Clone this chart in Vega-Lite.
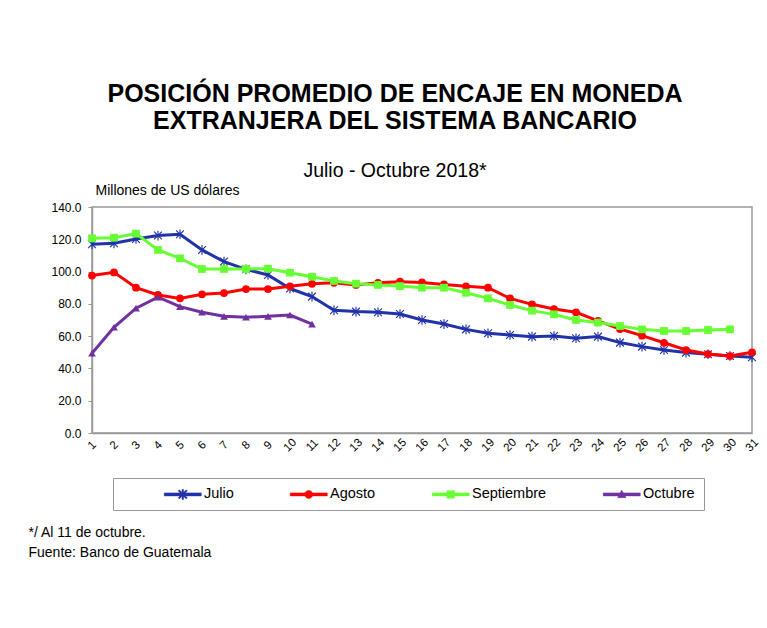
{
  "$schema": "https://vega.github.io/schema/vega-lite/v6.json",
  "autosize": {"type": "none"},
  "width": 660,
  "height": 226,
  "padding": {"left": 92, "top": 207, "right": 15, "bottom": 195},
  "background": "white",
  "config": {
    "font": "Liberation Sans",
    "view": {"stroke": "#999999", "strokeWidth": 1.5},
    "axis": {"labelFont": "Liberation Sans", "titleFont": "Liberation Sans", "labelColor": "black", "titleColor": "black", "grid": false, "domainColor": "#999999", "domainWidth": 1.5, "tickColor": "#999999"}
  },
  "title": {
    "text": ["POSICIÓN PROMEDIO DE ENCAJE EN MONEDA", "EXTRANJERA DEL SISTEMA BANCARIO"],
    "subtitle": "Julio - Octubre 2018*",
    "anchor": "middle",
    "dx": -27,
    "font": "Liberation Sans",
    "fontSize": 25,
    "fontWeight": "bold",
    "lineHeight": 27,
    "color": "black",
    "subtitleFont": "Liberation Sans",
    "subtitleFontSize": 19.5,
    "subtitleColor": "black",
    "subtitlePadding": 28,
    "offset": 3
  },
  "data": {
    "values": [
      {"dia": 1, "mes": "Julio", "valor": 116.9}, {"dia": 2, "mes": "Julio", "valor": 117.5}, {"dia": 3, "mes": "Julio", "valor": 120.2}, {"dia": 4, "mes": "Julio", "valor": 122.3}, {"dia": 5, "mes": "Julio", "valor": 123.1}, {"dia": 6, "mes": "Julio", "valor": 113.4}, {"dia": 7, "mes": "Julio", "valor": 106.2}, {"dia": 8, "mes": "Julio", "valor": 101.4}, {"dia": 9, "mes": "Julio", "valor": 97.9}, {"dia": 10, "mes": "Julio", "valor": 89.5}, {"dia": 11, "mes": "Julio", "valor": 84.5}, {"dia": 12, "mes": "Julio", "valor": 76.0}, {"dia": 13, "mes": "Julio", "valor": 75.2}, {"dia": 14, "mes": "Julio", "valor": 74.8}, {"dia": 15, "mes": "Julio", "valor": 73.7}, {"dia": 16, "mes": "Julio", "valor": 70.0}, {"dia": 17, "mes": "Julio", "valor": 67.5}, {"dia": 18, "mes": "Julio", "valor": 64.2}, {"dia": 19, "mes": "Julio", "valor": 61.8}, {"dia": 20, "mes": "Julio", "valor": 60.7}, {"dia": 21, "mes": "Julio", "valor": 59.7}, {"dia": 22, "mes": "Julio", "valor": 60.1}, {"dia": 23, "mes": "Julio", "valor": 58.7}, {"dia": 24, "mes": "Julio", "valor": 59.7}, {"dia": 25, "mes": "Julio", "valor": 56.0}, {"dia": 26, "mes": "Julio", "valor": 53.5}, {"dia": 27, "mes": "Julio", "valor": 51.4}, {"dia": 28, "mes": "Julio", "valor": 49.8}, {"dia": 29, "mes": "Julio", "valor": 48.8}, {"dia": 30, "mes": "Julio", "valor": 47.7}, {"dia": 31, "mes": "Julio", "valor": 46.9},
      {"dia": 1, "mes": "Agosto", "valor": 97.5}, {"dia": 2, "mes": "Agosto", "valor": 99.5}, {"dia": 3, "mes": "Agosto", "valor": 90.0}, {"dia": 4, "mes": "Agosto", "valor": 85.5}, {"dia": 5, "mes": "Agosto", "valor": 83.4}, {"dia": 6, "mes": "Agosto", "valor": 85.9}, {"dia": 7, "mes": "Agosto", "valor": 86.7}, {"dia": 8, "mes": "Agosto", "valor": 89.2}, {"dia": 9, "mes": "Agosto", "valor": 89.2}, {"dia": 10, "mes": "Agosto", "valor": 90.9}, {"dia": 11, "mes": "Agosto", "valor": 92.4}, {"dia": 12, "mes": "Agosto", "valor": 93.0}, {"dia": 13, "mes": "Agosto", "valor": 91.7}, {"dia": 14, "mes": "Agosto", "valor": 93.0}, {"dia": 15, "mes": "Agosto", "valor": 93.7}, {"dia": 16, "mes": "Agosto", "valor": 93.3}, {"dia": 17, "mes": "Agosto", "valor": 92.0}, {"dia": 18, "mes": "Agosto", "valor": 90.9}, {"dia": 19, "mes": "Agosto", "valor": 90.0}, {"dia": 20, "mes": "Agosto", "valor": 83.4}, {"dia": 21, "mes": "Agosto", "valor": 79.7}, {"dia": 22, "mes": "Agosto", "valor": 76.8}, {"dia": 23, "mes": "Agosto", "valor": 74.8}, {"dia": 24, "mes": "Agosto", "valor": 69.4}, {"dia": 25, "mes": "Agosto", "valor": 64.4}, {"dia": 26, "mes": "Agosto", "valor": 60.3}, {"dia": 27, "mes": "Agosto", "valor": 55.9}, {"dia": 28, "mes": "Agosto", "valor": 51.4}, {"dia": 29, "mes": "Agosto", "valor": 48.9}, {"dia": 30, "mes": "Agosto", "valor": 47.7}, {"dia": 31, "mes": "Agosto", "valor": 50.0},
      {"dia": 1, "mes": "Septiembre", "valor": 120.6}, {"dia": 2, "mes": "Septiembre", "valor": 121.0}, {"dia": 3, "mes": "Septiembre", "valor": 123.5}, {"dia": 4, "mes": "Septiembre", "valor": 113.4}, {"dia": 5, "mes": "Septiembre", "valor": 108.2}, {"dia": 6, "mes": "Septiembre", "valor": 101.6}, {"dia": 7, "mes": "Septiembre", "valor": 101.6}, {"dia": 8, "mes": "Septiembre", "valor": 101.6}, {"dia": 9, "mes": "Septiembre", "valor": 101.8}, {"dia": 10, "mes": "Septiembre", "valor": 99.3}, {"dia": 11, "mes": "Septiembre", "valor": 96.8}, {"dia": 12, "mes": "Septiembre", "valor": 94.2}, {"dia": 13, "mes": "Septiembre", "valor": 92.5}, {"dia": 14, "mes": "Septiembre", "valor": 91.7}, {"dia": 15, "mes": "Septiembre", "valor": 91.0}, {"dia": 16, "mes": "Septiembre", "valor": 90.0}, {"dia": 17, "mes": "Septiembre", "valor": 90.0}, {"dia": 18, "mes": "Septiembre", "valor": 86.9}, {"dia": 19, "mes": "Septiembre", "valor": 83.4}, {"dia": 20, "mes": "Septiembre", "valor": 79.3}, {"dia": 21, "mes": "Septiembre", "valor": 75.8}, {"dia": 22, "mes": "Septiembre", "valor": 73.5}, {"dia": 23, "mes": "Septiembre", "valor": 70.0}, {"dia": 24, "mes": "Septiembre", "valor": 68.4}, {"dia": 25, "mes": "Septiembre", "valor": 66.3}, {"dia": 26, "mes": "Septiembre", "valor": 64.2}, {"dia": 27, "mes": "Septiembre", "valor": 63.2}, {"dia": 28, "mes": "Septiembre", "valor": 63.2}, {"dia": 29, "mes": "Septiembre", "valor": 63.8}, {"dia": 30, "mes": "Septiembre", "valor": 64.2},
      {"dia": 1, "mes": "Octubre", "valor": 49.4}, {"dia": 2, "mes": "Octubre", "valor": 65.5}, {"dia": 3, "mes": "Octubre", "valor": 77.3}, {"dia": 4, "mes": "Octubre", "valor": 84.1}, {"dia": 5, "mes": "Octubre", "valor": 78.3}, {"dia": 6, "mes": "Octubre", "valor": 74.8}, {"dia": 7, "mes": "Octubre", "valor": 72.3}, {"dia": 8, "mes": "Octubre", "valor": 71.7}, {"dia": 9, "mes": "Octubre", "valor": 72.3}, {"dia": 10, "mes": "Octubre", "valor": 73.1}, {"dia": 11, "mes": "Octubre", "valor": 67.5}
    ]
  },
  "encoding": {
    "x": {
      "field": "dia", "type": "quantitative",
      "scale": {"domain": [1, 31], "nice": false, "zero": false},
      "axis": {
        "values": [1,2,3,4,5,6,7,8,9,10,11,12,13,14,15,16,17,18,19,20,21,22,23,24,25,26,27,28,29,30,31],
        "format": "d",
        "ticks": false,
        "labelAngle": -45,
        "labelAlign": "center",
        "labelBaseline": "middle",
        "labelPadding": 12,
        "labelFontSize": 11.5,
        "labelOverlap": false,
        "title": ["*/ Al 11 de octubre.", "Fuente: Banco de Guatemala"],
        "titleFontSize": 14,
        "titleFontWeight": "normal",
        "titleAnchor": "start",
        "titleAlign": "left",
        "titleBaseline": "alphabetic",
        "titleX": -64,
        "titleY": 103,
        "titleLineHeight": 20,
        "titleAngle": 0
      }
    },
    "y": {
      "field": "valor", "type": "quantitative",
      "scale": {"domain": [0, 140], "nice": false},
      "axis": {
        "values": [0, 20, 40, 60, 80, 100, 120, 140],
        "format": ".1f",
        "tickSize": 4,
        "labelPadding": 7,
        "labelFontSize": 12,
        "title": "Millones de US dólares",
        "titleAngle": 0,
        "titleAlign": "left",
        "titleBaseline": "alphabetic",
        "titleX": 3,
        "titleY": -13,
        "titleFontSize": 14,
        "titleFontWeight": "normal"
      }
    }
  },
  "layer": [
    {
      "mark": {"type": "line", "strokeWidth": 3},
      "encoding": {
        "color": {
          "field": "mes", "type": "nominal",
          "scale": {"domain": ["Julio", "Agosto", "Septiembre", "Octubre"], "range": ["#2233AA", "#FF0000", "#66FF33", "#7030A0"]},
          "legend": {
            "orient": "none",
            "legendX": 21,
            "legendY": 271,
            "direction": "horizontal",
            "columns": 4,
            "title": " ",
            "titleOrient": "left",
            "titlePadding": 42,
            "titleFontSize": 14,
            "padding": 9,
            "strokeColor": "#999999",
            "columnPadding": 55,
            "labelFont": "Liberation Sans",
            "labelFontSize": 14.5,
            "labelColor": "black",
            "symbolSize": 100,
            "symbolStrokeWidth": 3,
            "symbolOffset": 11.5,
            "labelOffset": 14,
            "encode": {
              "symbols": {
                "update": {
                  "shape": {"signal": "datum.value === 'Julio' ? 'M-3.7,-0.3H3.7V0.3H-3.7ZM-0.15,-1H0.15V1H-0.15ZM-0.694,-0.906L0.906,0.694L0.694,0.906L-0.906,-0.694ZM-0.694,0.906L-0.906,0.694L0.694,-0.906L0.906,-0.694Z' : datum.value === 'Agosto' ? 'M-3.7,-0.3H3.7V0.3H-3.7ZM0.8,0A0.8,0.8,0,1,1,-0.8,0A0.8,0.8,0,1,1,0.8,0Z' : datum.value === 'Septiembre' ? 'M-3.7,-0.3H3.7V0.3H-3.7ZM-0.75,-0.75H0.75V0.75H-0.75Z' : 'M-3.7,-0.3H3.7V0.3H-3.7ZM0,-0.85L0.85,0.65H-0.85Z'"},
                  "fill": {"signal": "scale('color', datum.value)"},
                  "stroke": {"signal": "scale('color', datum.value)"},
                  "strokeWidth": {"value": 0.5}
                }
              }
            }
          }
        }
      }
    },
    {
      "mark": {"type": "point", "filled": true, "size": 60, "opacity": 1},
      "encoding": {
        "color": {"field": "mes", "type": "nominal"},
        "shape": {
          "field": "mes", "type": "nominal",
          "scale": {"range": ["circle", "M-0.894,-1.106L1.106,0.894L0.894,1.106L-1.106,-0.894ZM-0.894,1.106L-1.106,0.894L0.894,-1.106L1.106,-0.894ZM-0.15,-1.25H0.15V1.25H-0.15Z", "triangle-up", "square"]},
          "legend": null
        }
      }
    }
  ]
}
